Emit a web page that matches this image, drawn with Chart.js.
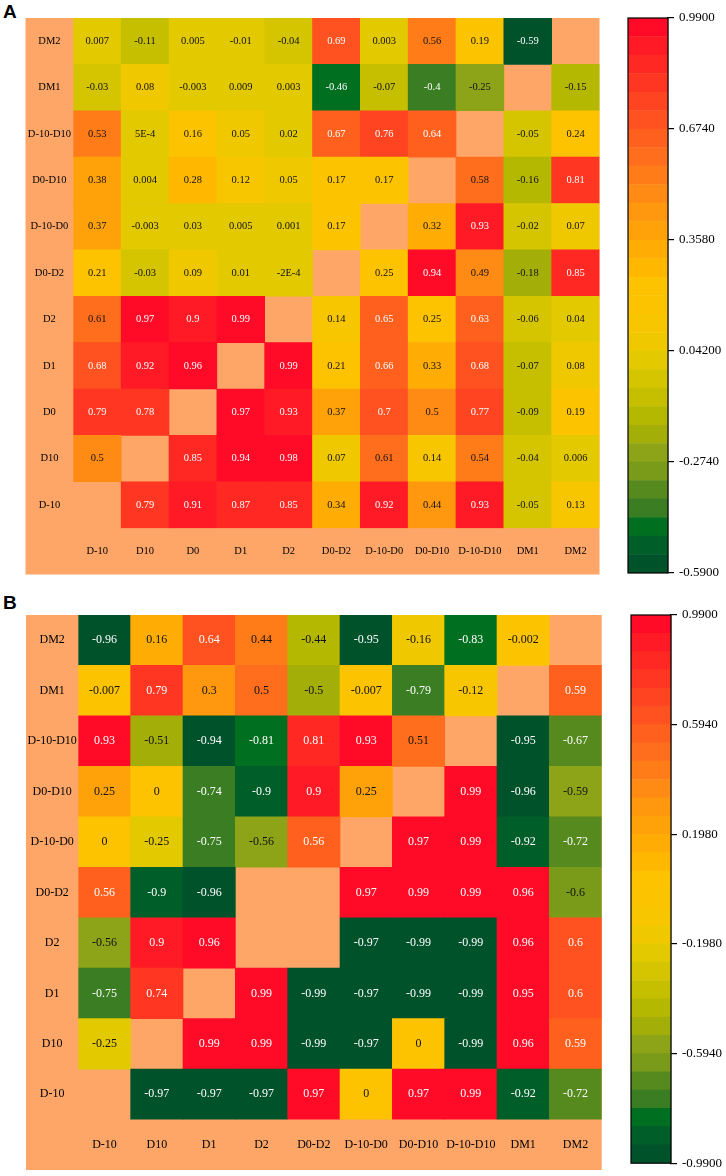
<!DOCTYPE html>
<html><head><meta charset="utf-8">
<script src="https://cdn.jsdelivr.net/npm/chart.js@4.4.1/dist/chart.umd.min.js"></script>
<style>
html,body{margin:0;padding:0;background:#fff;width:726px;height:1176px;overflow:hidden;}
canvas{position:absolute;}
.lbl{position:absolute;font:bold 19px "Liberation Sans",Arial,sans-serif;color:#000;line-height:19px;}
</style></head><body>
<div class="lbl" style="left:3px;top:2px">A</div>
<div class="lbl" style="left:3px;top:593px">B</div>
<canvas id="hmA" width="610" height="590" style="left:0;top:0"></canvas>
<canvas id="cbA" width="126" height="590" style="left:600px;top:0"></canvas>
<canvas id="hmB" width="610" height="586" style="left:0;top:590px"></canvas>
<canvas id="cbB" width="126" height="586" style="left:600px;top:590px"></canvas>
<script>
// ---------- Panel A data ----------
const colsA = ['D-10','D10','D0','D1','D2','D0-D2','D-10-D0','D0-D10','D-10-D10','DM1','DM2'];
const A_DM2    = [0.007, -0.11, 0.005, -0.01, -0.04, 0.69, 0.003, 0.56, 0.19, -0.59, null];
const A_DM1    = [-0.03, 0.08, -0.003, 0.009, 0.003, -0.46, -0.07, -0.4, -0.25, null, -0.15];
const A_D10D10 = [0.53, 0.0005, 0.16, 0.05, 0.02, 0.67, 0.76, 0.64, null, -0.05, 0.24];
const A_D0D10  = [0.38, 0.004, 0.28, 0.12, 0.05, 0.17, 0.17, null, 0.58, -0.16, 0.81];
const A_D10D0  = [0.37, -0.003, 0.03, 0.005, 0.001, 0.17, null, 0.32, 0.93, -0.02, 0.07];
const A_D0D2   = [0.21, -0.03, 0.09, 0.01, -0.0002, null, 0.25, 0.94, 0.49, -0.18, 0.85];
const A_D2     = [0.61, 0.97, 0.9, 0.99, null, 0.14, 0.65, 0.25, 0.63, -0.06, 0.04];
const A_D1     = [0.68, 0.92, 0.96, null, 0.99, 0.21, 0.66, 0.33, 0.68, -0.07, 0.08];
const A_D0     = [0.79, 0.78, null, 0.97, 0.93, 0.37, 0.7, 0.5, 0.77, -0.09, 0.19];
const A_D10    = [0.5, null, 0.85, 0.94, 0.98, 0.07, 0.61, 0.14, 0.54, -0.04, 0.006];
const A_Dm10   = [null, 0.79, 0.91, 0.87, 0.85, 0.34, 0.92, 0.44, 0.93, -0.05, 0.13];
const rowNamesA = ['D-10','D10','D0','D1','D2','D0-D2','D-10-D0','D0-D10','D-10-D10','DM1','DM2']; // bottom -> top
const rowsA = [A_Dm10, A_D10, A_D0, A_D1, A_D2, A_D0D2, A_D10D0, A_D0D10, A_D10D10, A_DM1, A_DM2];
const rangeA = [-0.59, 0.99];
const tickValsA = [-0.59, -0.274, 0.042, 0.358, 0.674, 0.99];
const tickTextA = ['-0.5900', '-0.2740', '0.04200', '0.3580', '0.6740', '0.9900'];

// ---------- Panel B data ----------
const colsB = ['D-10','D10','D1','D2','D0-D2','D-10-D0','D0-D10','D-10-D10','DM1','DM2'];
const B_DM2    = [-0.96, 0.16, 0.64, 0.44, -0.44, -0.95, -0.16, -0.83, -0.002, null];
const B_DM1    = [-0.007, 0.79, 0.3, 0.5, -0.5, -0.007, -0.79, -0.12, null, 0.59];
const B_D10D10 = [0.93, -0.51, -0.94, -0.81, 0.81, 0.93, 0.51, null, -0.95, -0.67];
const B_D0D10  = [0.25, 0, -0.74, -0.9, 0.9, 0.25, null, 0.99, -0.96, -0.59];
const B_D10D0  = [0, -0.25, -0.75, -0.56, 0.56, null, 0.97, 0.99, -0.92, -0.72];
const B_D0D2   = [0.56, -0.9, -0.96, null, null, 0.97, 0.99, 0.99, 0.96, -0.6];
const B_D2     = [-0.56, 0.9, 0.96, null, null, -0.97, -0.99, -0.99, 0.96, 0.6];
const B_D1     = [-0.75, 0.74, null, 0.99, -0.99, -0.97, -0.99, -0.99, 0.95, 0.6];
const B_D10    = [-0.25, null, 0.99, 0.99, -0.99, -0.97, 0, -0.99, 0.96, 0.59];
const B_Dm10   = [null, -0.97, -0.97, -0.97, 0.97, 0, 0.97, 0.99, -0.92, -0.72];
const rowNamesB = ['D-10','D10','D1','D2','D0-D2','D-10-D0','D0-D10','D-10-D10','DM1','DM2']; // bottom -> top
const rowsB = [B_Dm10, B_D10, B_D1, B_D2, B_D0D2, B_D10D0, B_D0D10, B_D10D10, B_DM1, B_DM2];
const rangeB = [-0.99, 0.99];
const tickValsB = [-0.99, -0.594, -0.198, 0.198, 0.594, 0.99];
const tickTextB = ['-0.9900', '-0.5940', '-0.1980', '0.1980', '0.5940', '0.9900'];

// ---------- styling ----------
const palette = ['#00522a','#005e28','#007020','#3a7d22','#568a1e','#7a9a19',
  '#8ea418','#a4ae08','#b5b800','#c5bf00','#d4c500','#e2c900',
  '#f0c800','#f8c600','#fcc400','#fdc200','#ffb700','#ffac05',
  '#ffa20a','#ff970f','#ff8a14','#ff7c18','#ff6e1c','#ff601e',
  '#ff5220','#ff4422','#ff3622','#ff2823','#ff1a25','#ff0a27'];
const SALMON = '#fda668';
const SERIF = '"Liberation Serif", "DejaVu Serif", serif';

function bandOf(v, lo, hi) {
  const t = (v - lo) / (hi - lo);
  return Math.max(0, Math.min(palette.length - 1, Math.floor(t * palette.length)));
}
function fmt(v) {
  if (v !== 0 && Math.abs(v) < 0.001) return v.toExponential().toUpperCase().replace('+', '');
  return String(v);
}

const bgPlugin = {
  id: 'salmonBg',
  beforeDraw(chart) {
    const {ctx, chartArea, scales} = chart;
    ctx.save();
    ctx.fillStyle = SALMON;
    ctx.fillRect(scales.y.left, chartArea.top, chartArea.right - scales.y.left, scales.x.bottom - chartArea.top);
    ctx.restore();
  }
};
const valuePlugin = {
  id: 'valueText',
  afterDatasetsDraw(chart, args, opts) {
    const ctx = chart.ctx;
    ctx.save();
    ctx.font = opts.size + 'px ' + SERIF;
    ctx.textAlign = 'center';
    ctx.textBaseline = 'middle';
    chart.data.datasets.forEach((ds, i) => {
      const meta = chart.getDatasetMeta(i);
      meta.data.forEach((el, j) => {
        const v = ds.vals[j];
        if (v === null || v === undefined) return;
        const p = el.getProps(['x', 'y', 'base'], true);
        ctx.fillStyle = ds.textColors[j];
        ctx.fillText(fmt(v), p.x, (p.y + p.base) / 2);
      });
    });
    ctx.restore();
  }
};
const framePlugin = {
  id: 'frame',
  afterDatasetsDraw(chart) {
    const {ctx, chartArea: a} = chart;
    ctx.save();
    ctx.strokeStyle = '#000';
    ctx.lineWidth = 1.2;
    ctx.strokeRect(a.left, a.top, a.right - a.left, a.bottom - a.top);
    ctx.restore();
  }
};

function buildHeatmap(id, cols, rows, rowNames, range, g, size) {
  const n = cols.length;
  const cellW = (g.x1 - g.x0) / (n + 1);
  const cellH = (g.y1 - g.y0) / (n + 1);
  const canvas = document.getElementById(id);
  const mctx = canvas.getContext('2d');
  mctx.font = size + 'px ' + SERIF;
  const widest = Math.max(...rowNames.map(s => mctx.measureText(s).width));
  const font = {family: SERIF, size: size};
  const datasets = rows.map((row, r) => ({
    data: row.map(v => v === null ? null : [r - 0.5, r + 0.5]),
    vals: row,
    backgroundColor: row.map(v => v === null ? 'rgba(0,0,0,0)' : palette[bandOf(v, range[0], range[1])]),
    textColors: row.map(v => {
      if (v === null) return '#000';
      const b = bandOf(v, range[0], range[1]);
      return (b >= 23 || b <= 4) ? '#ffffff' : '#111111';
    }),
    grouped: false, barPercentage: 1, categoryPercentage: 1, borderWidth: 0
  }));
  return new Chart(canvas, {
    type: 'bar',
    data: {labels: cols, datasets},
    options: {
      responsive: false, animation: false, devicePixelRatio: 1,
      layout: {padding: {left: g.x0, right: canvas.width - g.x1, top: g.y0, bottom: canvas.height - g.y1}},
      plugins: {legend: {display: false}, tooltip: {enabled: false}, valueText: {size: size}},
      scales: {
        x: {
          type: 'category', offset: true,
          afterFit: s => { s.height = cellH; },
          grid: {display: false, drawTicks: false}, border: {display: false},
          ticks: {padding: (cellH - size * 1.2) / 2, font, color: '#000', maxRotation: 0, minRotation: 0, autoSkip: false}
        },
        y: {
          type: 'linear', min: -0.5, max: n - 0.5,
          afterBuildTicks: s => { s.ticks = rowNames.map((_, i) => ({value: i})); },
          afterFit: s => { s.width = cellW; },
          grid: {display: false, drawTicks: false}, border: {display: false},
          ticks: {callback: v => rowNames[v], crossAlign: 'center', padding: (cellW - widest) / 2, font, color: '#000', autoSkip: false}
        }
      }
    },
    plugins: [bgPlugin, valuePlugin]
  });
}

function buildColorbar(id, range, tickVals, tickText, g) {
  const canvas = document.getElementById(id);
  const N = palette.length;
  const step = (range[1] - range[0]) / N;
  const datasets = palette.map((c, k) => ({
    data: [[range[0] + k * step, range[0] + (k + 1) * step]],
    backgroundColor: c, grouped: false, barPercentage: 1, categoryPercentage: 1, borderWidth: 0
  }));
  return new Chart(canvas, {
    type: 'bar',
    data: {labels: [''], datasets},
    options: {
      responsive: false, animation: false, devicePixelRatio: 1,
      layout: {padding: {left: g.left, right: 0, top: g.top, bottom: canvas.height - g.bottom}},
      plugins: {legend: {display: false}, tooltip: {enabled: false}},
      scales: {
        x: {display: false},
        y: {
          position: 'right', min: range[0], max: range[1],
          afterBuildTicks: s => { s.ticks = tickVals.map(v => ({value: v})); },
          afterFit: s => { s.width = canvas.width - g.right; },
          grid: {drawOnChartArea: false, drawTicks: true, tickLength: 6, color: '#000', lineWidth: 1.2},
          border: {display: true, color: '#000', width: 1.2},
          ticks: {callback: (v, i) => tickText[i], padding: 5, color: '#000', font: {family: SERIF, size: 13}, autoSkip: false}
        }
      }
    },
    plugins: [framePlugin]
  });
}

buildHeatmap('hmA', colsA, rowsA, rowNamesA, rangeA, {x0: 25.5, x1: 599.5, y0: 18, y1: 574.5}, 10.5);
buildHeatmap('hmB', colsB, rowsB, rowNamesB, rangeB, {x0: 26, x1: 601.7, y0: 25, y1: 580}, 12);
buildColorbar('cbA', rangeA, tickValsA, tickTextA, {left: 28, right: 68, top: 18, bottom: 573});
buildColorbar('cbB', rangeB, tickValsB, tickTextB, {left: 31, right: 71, top: 25, bottom: 580});
</script>
</body></html>
